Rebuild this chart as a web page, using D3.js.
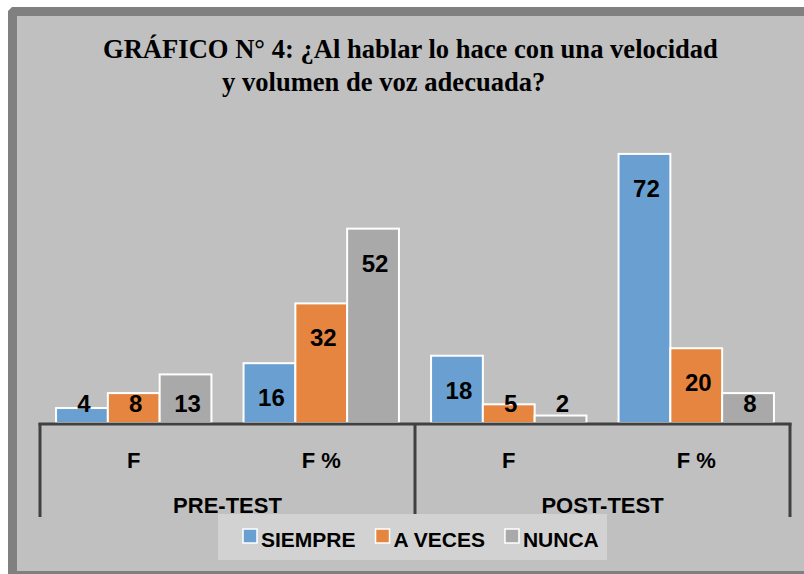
<!DOCTYPE html>
<html>
<head>
<meta charset="utf-8">
<script src="https://cdn.jsdelivr.net/npm/d3@7"></script>
<style>
  body { margin: 0; background: #fff; }
  svg { display: block; }
</style>
</head>
<body>
<div id="chart"></div>
<script>
// data
var groups = ["PRE-TEST", "POST-TEST"];
var categories = ["F", "F %"];
var seriesNames = ["SIEMPRE", "A VECES", "NUNCA"];
var siempre = [4, 16, 18, 72];
var aveces = [8, 32, 5, 20];
var nunca = [13, 52, 2, 8];
var colors = ["#69a0d1", "#e6853f", "#a9a9a9"];
var titleLines = ["GRÁFICO N° 4: ¿Al hablar lo hace con una velocidad", "y volumen de voz adecuada?"];

var width = 804, height = 574;
var margin = {top: 124, right: 14, bottom: 151, left: 40},
    Chartwidth = width - margin.left - margin.right,
    baseY = height - margin.bottom;

var svg = d3.select("#chart").append("svg")
    .attr("width", width)
    .attr("height", height);

// frame
svg.append("path")
    .attr("d", "M8,11 L12,7 L820,7 L820,590 L8,590 Z")
    .attr("fill", "#808080");
svg.append("rect")
    .attr("x", 17).attr("y", 16)
    .attr("width", 800).attr("height", 555)
    .attr("fill", "#c0c0c0");

// title
var title = svg.append("g").attr("font-family", "Liberation Serif, Times New Roman, serif")
    .attr("font-weight", "bold").attr("font-size", 28).attr("fill", "#000");
var t1 = title.append("text").text(titleLines[0]);
var t2 = title.append("text").text(titleLines[1]);
var sx = 615 / t1.node().getComputedTextLength();
t1.attr("transform", "translate(103,58) scale(" + sx + ",1)");
t2.attr("transform", "translate(222,91) scale(" + sx + ",1)");

// rows
var rows = [];
groups.forEach(function(gname, gi) {
    categories.forEach(function(c, ci) {
        var i = gi * categories.length + ci;
        rows.push({key: gname + "|" + c, group: gname, cat: c, values: [siempre[i], aveces[i], nunca[i]]});
    });
});

var x0 = d3.scaleBand().domain(rows.map(function(d) { return d.key; }))
    .range([margin.left, margin.left + Chartwidth]);
var x1 = d3.scaleBand().domain(seriesNames).range([0, x0.bandwidth()])
    .paddingInner(0).paddingOuter(0.31);
var y = d3.scaleLinear().domain([0, 80]).range([baseY, margin.top]);

var g = svg.append("g");

var rowG = g.selectAll(".row")
    .data(rows)
  .enter().append("g")
    .attr("class", "row")
    .attr("transform", function(d) { return "translate(" + x0(d.key) + ",0)"; });

rowG.selectAll(".bar")
    .data(function(d) { return d.values.map(function(v, i) { return {s: seriesNames[i], v: v, i: i}; }); })
  .enter().append("rect")
    .attr("class", "bar")
    .attr("x", function(d) { return x1(d.s); })
    .attr("y", function(d) { return y(d.v); })
    .attr("width", x1.bandwidth())
    .attr("height", function(d) { return baseY - y(d.v); })
    .attr("fill", function(d) { return colors[d.i]; })
    .attr("stroke", "#fff")
    .attr("stroke-width", 2);

rowG.selectAll(".lbl")
    .data(function(d) { return d.values.map(function(v, i) { return {s: seriesNames[i], v: v}; }); })
  .enter().append("text")
    .attr("class", "lbl")
    .attr("x", function(d) { return x1(d.s) + x1.bandwidth() / 2 + 2; })
    .attr("y", function(d) { return Math.min(y(d.v) + 34, baseY - 20) + 9; })
    .attr("text-anchor", "middle")
    .attr("font-family", "Liberation Sans, Arial, sans-serif")
    .attr("font-weight", "bold")
    .attr("font-size", 24)
    .attr("fill", "#000")
    .text(function(d) { return d.v; });

// axis lines
var axisColor = "#404040";
var bottomY = baseY + 94;
g.append("line")
    .attr("x1", margin.left - 1.5).attr("x2", margin.left + Chartwidth + 1.5)
    .attr("y1", baseY + 1).attr("y2", baseY + 1)
    .attr("stroke", axisColor).attr("stroke-width", 3);

var bounds = [margin.left, x0(groups[1] + "|" + categories[0]), margin.left + Chartwidth];
g.selectAll(".sep")
    .data(bounds)
  .enter().append("line")
    .attr("class", "sep")
    .attr("x1", function(d) { return d; }).attr("x2", function(d) { return d; })
    .attr("y1", baseY).attr("y2", bottomY)
    .attr("stroke", axisColor).attr("stroke-width", 3);

var labelFont = "Liberation Sans, Arial, sans-serif";

g.selectAll(".catlbl")
    .data(rows)
  .enter().append("text")
    .attr("class", "catlbl")
    .attr("x", function(d) { return x0(d.key) + x0.bandwidth() / 2; })
    .attr("y", baseY + 45)
    .attr("text-anchor", "middle")
    .attr("font-family", labelFont).attr("font-weight", "bold").attr("font-size", 22)
    .text(function(d) { return d.cat; });

g.selectAll(".grplbl")
    .data(groups)
  .enter().append("text")
    .attr("class", "grplbl")
    .attr("x", function(d, i) { return (bounds[i] + bounds[i + 1]) / 2; })
    .attr("y", baseY + 90)
    .attr("text-anchor", "middle")
    .attr("font-family", labelFont).attr("font-weight", "bold").attr("font-size", 22)
    .text(function(d) { return d; });

// legend
var legend = svg.append("g");
legend.append("rect")
    .attr("x", 218).attr("y", 514)
    .attr("width", 389).attr("height", 46)
    .attr("fill", "#d2d2d2");

var lx = 243;
seriesNames.forEach(function(s, i) {
    legend.append("rect")
        .attr("x", lx).attr("y", 529)
        .attr("width", 14).attr("height", 14)
        .attr("fill", colors[i])
        .attr("stroke", "#fff").attr("stroke-width", 1.5);
    var t = legend.append("text")
        .attr("x", lx + 18).attr("y", 547)
        .attr("font-family", labelFont).attr("font-weight", "bold").attr("font-size", 21)
        .text(s);
    lx = lx + 18 + t.node().getComputedTextLength() + 20;
});
</script>
</body>
</html>
